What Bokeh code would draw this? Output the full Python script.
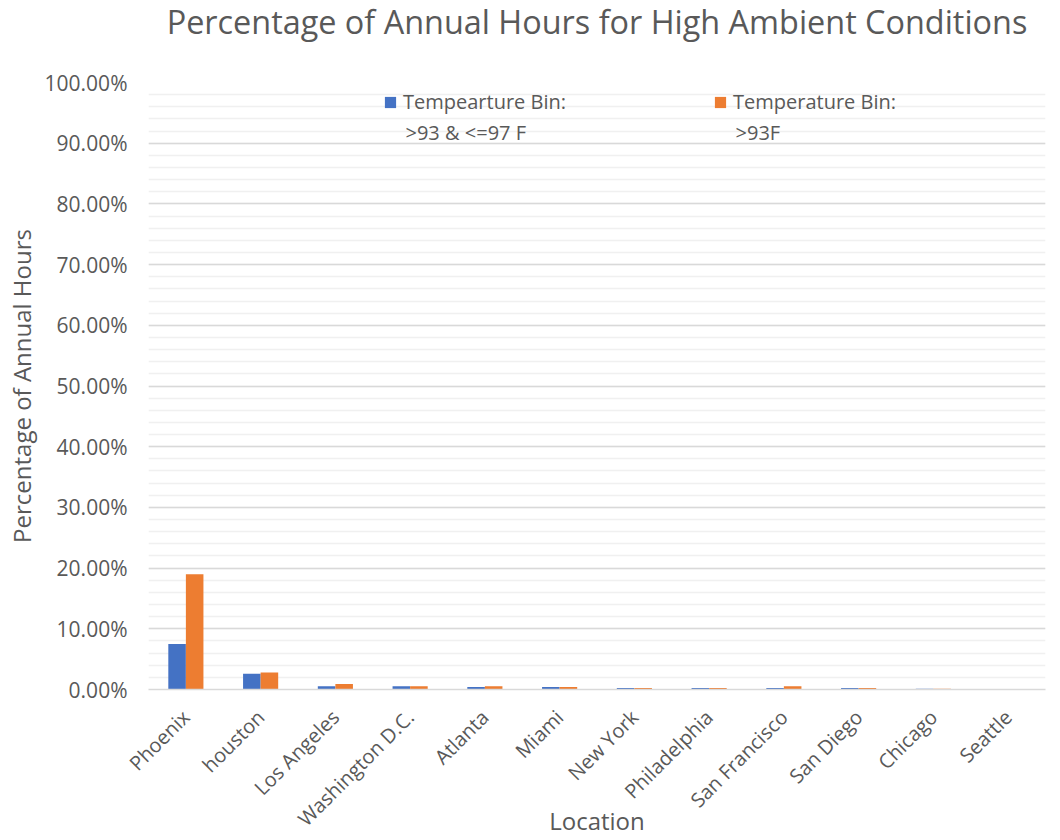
from bokeh.plotting import figure
from bokeh.models import (ColumnDataSource, FactorRange, Range1d, NumeralTickFormatter,
                          SingleIntervalTicker, Legend, LegendItem, Label)
from bokeh.transform import dodge
from bokeh.embed import file_html
from bokeh.resources import INLINE
import math

locations = ["Phoenix", "houston", "Los Angeles", "Washington D.C.", "Atlanta", "Miami",
             "New York", "Philadelphia", "San Francisco", "San Diego", "Chicago", "Seattle"]
bin_93_97 = [0.075, 0.026, 0.0055, 0.0055, 0.0042, 0.0042, 0.0025, 0.0025, 0.0025, 0.0025, 0.0012, 0.0006]
bin_gt93 = [0.190, 0.028, 0.0090, 0.0055, 0.0055, 0.0042, 0.0025, 0.0025, 0.0055, 0.0025, 0.0012, 0.0006]

legend_line1 = ["Tempearture Bin:", "Temperature Bin:"]
legend_line2 = [">93 & <=97 F", ">93F"]
title_text = "Percentage of Annual Hours for High Ambient Conditions"
y_title = "Percentage of Annual Hours"
x_title = "Location"

FONT = "Open Sans"
GREY = "#595959"

src = ColumnDataSource(dict(loc=locations, a=bin_93_97, b=bin_gt93))

p = figure(width=1060, height=840, x_range=FactorRange(factors=locations, range_padding=0),
           y_range=Range1d(0, 1.0), output_backend="svg", toolbar_location=None,
           min_border_left=148, min_border_right=15, min_border_top=82, min_border_bottom=150)

ra = p.vbar(x=dodge("loc", -0.1175, range=p.x_range), top="a", width=0.235, source=src,
            fill_color="#4472C4", line_color=None)
rb = p.vbar(x=dodge("loc", 0.1175, range=p.x_range), top="b", width=0.235, source=src,
            fill_color="#ED7D31", line_color=None)

# trailing empty line lifts the title towards the top edge, as in the reference
p.title.text = title_text + "\n"
p.title.align = "center"
p.title.text_font = FONT
p.title.text_font_size = "32.4px"
p.title.text_font_style = "normal"
p.title.text_color = GREY
p.title.standoff = -8

p.outline_line_color = None
p.xgrid.grid_line_color = None
p.yaxis.ticker = SingleIntervalTicker(interval=0.1, num_minor_ticks=5)
p.ygrid.grid_line_color = "#d9d9d9"
p.ygrid.grid_line_width = 1.5
p.ygrid.minor_grid_line_color = "#f0f0f0"
p.ygrid.minor_grid_line_width = 1.5

p.yaxis.formatter = NumeralTickFormatter(format="0.00%")
p.yaxis.axis_line_color = None
p.yaxis.major_tick_line_color = None
p.yaxis.minor_tick_line_color = None
p.yaxis.major_label_standoff = 15
p.yaxis.major_label_text_font = FONT
p.yaxis.major_label_text_font_size = "21px"
p.yaxis.major_label_text_color = GREY
p.yaxis.axis_label = y_title
p.yaxis.axis_label_text_font = FONT
p.yaxis.axis_label_text_font_size = "24px"
p.yaxis.axis_label_text_font_style = "normal"
p.yaxis.axis_label_text_color = GREY
p.yaxis.axis_label_standoff = 4

p.xaxis.axis_line_color = "#d9d9d9"
p.xaxis.axis_line_width = 1.5
p.xaxis.major_tick_line_color = None
p.xaxis.minor_tick_line_color = None
p.xaxis.major_label_orientation = math.pi / 4
p.xaxis.major_label_standoff = 18
p.xaxis.major_label_text_font = FONT
p.xaxis.major_label_text_font_size = "20px"
p.xaxis.major_label_text_color = GREY
p.xaxis.axis_label = x_title
p.xaxis.axis_label_text_font = FONT
p.xaxis.axis_label_text_font_size = "24px"
p.xaxis.axis_label_text_font_style = "normal"
p.xaxis.axis_label_text_color = GREY
p.xaxis.axis_label_standoff = -40

for i, (lx, r) in enumerate(zip([235, 565], [ra, rb])):
    lg = Legend(items=[LegendItem(label=legend_line1[i], renderers=[r])], location=(lx, 574))
    lg.background_fill_alpha = 0
    lg.border_line_color = None
    lg.label_text_font = FONT
    lg.label_text_font_size = "20px"
    lg.label_text_color = GREY
    lg.glyph_width = 14
    lg.glyph_height = 14
    lg.label_standoff = 6
    lg.label_width = 175
    p.add_layout(lg, "center")

for xpos, txt in zip([3.438, 7.853], legend_line2):
    p.add_layout(Label(x=xpos, y=0.918, text=txt, text_baseline="middle", text_align="left",
                       text_font=FONT, text_font_size="20px", text_color=GREY))

open("out.html", "w").write(file_html(p, INLINE))
